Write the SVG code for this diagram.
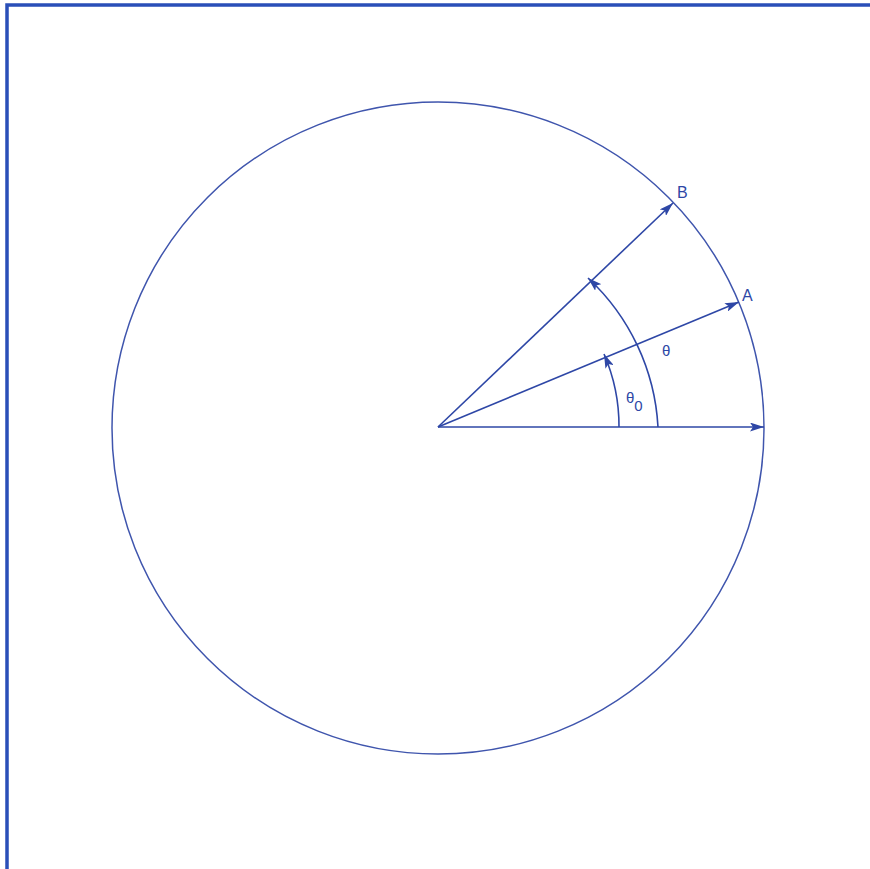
<svg xmlns="http://www.w3.org/2000/svg" width="870" height="869" viewBox="0 0 870 869">
<defs>
<style>
.ln{stroke:#2e47a6;stroke-width:1.6;fill:none}
.lbl{font-family:"Liberation Sans",Arial,sans-serif;fill:#2e47a6}
</style>
<marker id="ah" viewBox="0 0 14 9" refX="14" refY="4.5" markerWidth="14" markerHeight="9" markerUnits="userSpaceOnUse" orient="auto">
<path d="M0,0 L14,4.5 L0,9 L3,4.5 Z" fill="#2e47a6"/>
</marker>
</defs>
<rect width="870" height="869" fill="#ffffff"/>
<g id="frame">
<path d="M7,869 V5 H870" fill="none" stroke="#2a4fb8" stroke-width="3.5"/>
</g>
<g id="circle">
<circle cx="438" cy="428" r="326" fill="none" stroke="#3f55ad" stroke-width="1.5"/>
</g>
<g id="connectors">
<line class="ln" x1="438" y1="427" x2="764" y2="427" marker-end="url(#ah)"/>
<line class="ln" x1="438" y1="427" x2="739" y2="302" marker-end="url(#ah)"/>
<line class="ln" x1="438" y1="427" x2="673" y2="203" marker-end="url(#ah)"/>
<path class="ln" d="M619,427 A181,181 0 0 0 604,354" marker-end="url(#ah)"/>
<path class="ln" d="M658,427 A220,220 0 0 0 588,278" marker-end="url(#ah)"/>
</g>
<g id="labels">
<text class="lbl" x="677" y="198" font-size="16">B</text>
<text class="lbl" x="742" y="301" font-size="16">A</text>
<text class="lbl" x="662" y="356" font-size="15">θ</text>
<text class="lbl" x="626" y="403" font-size="15">θ<tspan font-size="15" dy="8">0</tspan></text>
</g>
</svg>
